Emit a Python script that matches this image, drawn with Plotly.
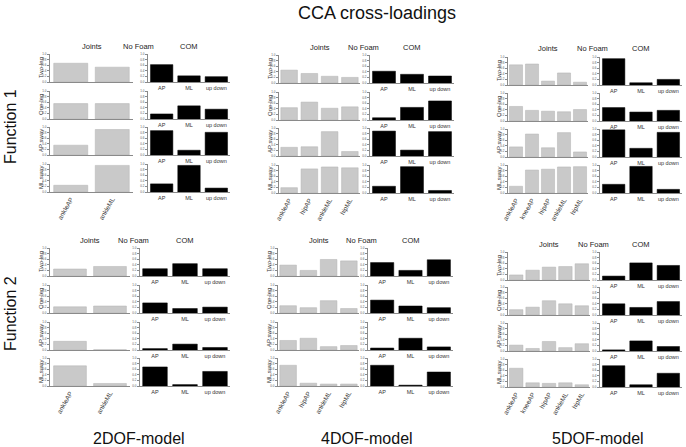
import plotly.graph_objects as go

W, H = 686, 447
FONT = "Arial, Liberation Sans, sans-serif"

conditions = ["Two-leg", "One-leg", "AP sway", "ML sway"]
com_labels = ["AP", "ML", "up down"]
joints_2dof = ["ankleAP", "ankleML"]
joints_4dof = ["ankleAP", "hipAP", "ankleML", "hipML"]
joints_5dof = ["ankleAP", "kneeAP", "hipAP", "ankleML", "hipML"]
model_names = ["2DOF-model", "4DOF-model", "5DOF-model"]
function_names = ["Function 1", "Function 2"]

# Function 1 cross-loadings (rows: Two-leg, One-leg, AP sway, ML sway)
f1_2dof_joints = [[0.67, 0.53], [0.55, 0.55], [0.35, 0.91], [0.24, 0.95]]
f1_2dof_com = [[0.62, 0.22, 0.19], [0.18, 0.47, 0.35], [0.87, 0.17, 0.81], [0.29, 0.95, 0.14]]
f1_4dof_joints = [[0.46, 0.34, 0.24, 0.20], [0.44, 0.64, 0.42, 0.47],
                  [0.31, 0.33, 0.87, 0.16], [0.19, 0.86, 0.93, 0.90]]
f1_4dof_com = [[0.42, 0.31, 0.25], [0.08, 0.45, 0.68], [0.89, 0.21, 0.87], [0.24, 0.94, 0.09]]
f1_5dof_joints = [[0.72, 0.75, 0.14, 0.43, 0.10], [0.52, 0.38, 0.35, 0.33, 0.41],
                  [0.36, 0.82, 0.33, 0.87, 0.18], [0.24, 0.82, 0.85, 0.93, 0.94]]
f1_5dof_com = [[0.94, 0.08, 0.20], [0.48, 0.32, 0.38], [0.97, 0.31, 0.88], [0.31, 0.95, 0.13]]

# Function 2 cross-loadings
f2_2dof_joints = [[0.25, 0.34], [0.22, 0.25], [0.31, 0.01], [0.72, 0.09]]
f2_2dof_com = [[0.26, 0.44, 0.26], [0.36, 0.16, 0.21], [0.05, 0.21, 0.09], [0.68, 0.05, 0.52]]
f2_4dof_joints = [[0.39, 0.20, 0.59, 0.54], [0.26, 0.19, 0.44, 0.16],
                  [0.34, 0.42, 0.12, 0.16], [0.74, 0.10, 0.07, 0.07]]
f2_4dof_com = [[0.48, 0.20, 0.58], [0.46, 0.25, 0.19], [0.07, 0.42, 0.11], [0.74, 0.03, 0.50]]
f2_5dof_joints = [[0.18, 0.35, 0.46, 0.48, 0.58], [0.19, 0.28, 0.51, 0.40, 0.33],
                  [0.21, 0.09, 0.34, 0.12, 0.26], [0.67, 0.15, 0.13, 0.15, 0.08]]
f2_5dof_com = [[0.14, 0.61, 0.52], [0.40, 0.27, 0.48], [0.04, 0.36, 0.16], [0.76, 0.08, 0.49]]

panels = [
    (joints_2dof, f1_2dof_joints, f1_2dof_com, dict(jl=50, jr=133, cl=148, cr=230, tops=[54, 91, 127, 164])),
    (joints_4dof, f1_4dof_joints, f1_4dof_com, dict(jl=279, jr=360, cl=370, cr=454, tops=[55, 92, 128, 165])),
    (joints_5dof, f1_5dof_joints, f1_5dof_com, dict(jl=508, jr=588, cl=600, cr=682, tops=[57, 93, 129, 165])),
    (joints_2dof, f2_2dof_joints, f2_2dof_com, dict(jl=50, jr=130, cl=140, cr=230, tops=[248, 285, 322, 358])),
    (joints_4dof, f2_4dof_joints, f2_4dof_com, dict(jl=278, jr=359, cl=368, cr=453, tops=[248, 285, 322, 358])),
    (joints_5dof, f2_5dof_joints, f2_5dof_com, dict(jl=508, jr=590, cl=600, cr=682, tops=[252, 287, 323, 359])),
]
ROW_H = 28

fig = go.Figure()
layout = {}
annotations = []
n = 0

def px_x(v):
    return v / W

def px_y(v):
    return 1 - v / H

AX_COLOR = "#8a8a8a"

def add_axes(n, xl, xr, top, show_x, x_font, x_angle):
    xa = "xaxis" if n == 1 else f"xaxis{n}"
    ya = "yaxis" if n == 1 else f"yaxis{n}"
    layout[xa] = dict(domain=[px_x(xl), px_x(xr)], anchor=f"y{n if n > 1 else ''}",
                      showline=True, linecolor=AX_COLOR, linewidth=1, ticks="",
                      showgrid=False, zeroline=False, showticklabels=show_x,
                      tickfont=dict(size=x_font, color="#333", family=FONT),
                      tickangle=x_angle, ticklen=0, automargin=False)
    layout[ya] = dict(domain=[px_y(top + ROW_H), px_y(top)], anchor=f"x{n if n > 1 else ''}",
                      range=[0, 1.0], dtick=0.2, tickformat=".1f",
                      showline=True, linecolor=AX_COLOR, linewidth=1, ticks="outside",
                      ticklen=2, tickcolor=AX_COLOR, tickwidth=0.5,
                      showgrid=False, zeroline=False,
                      tickfont=dict(size=3, color="#555", family=FONT), automargin=False)

for (jnames, jvals, cvals, g) in panels:
    for r, cond in enumerate(conditions):
        top = g["tops"][r]
        # joints subplot
        n += 1
        add_axes(n, g["jl"], g["jr"], top, r == 3, 6.5, -60)
        sfx = "" if n == 1 else str(n)
        fig.add_trace(go.Bar(x=jnames, y=jvals[r], xaxis=f"x{sfx}", yaxis=f"y{sfx}",
                             marker=dict(color="#c9c9c9", line=dict(color="#b3b3b3", width=0.5)),
                             showlegend=False, hoverinfo="x+y"))
        # COM subplot
        n += 1
        add_axes(n, g["cl"], g["cr"], top, True, 5.5, 0)
        sfx = str(n)
        fig.add_trace(go.Bar(x=com_labels, y=cvals[r], xaxis=f"x{sfx}", yaxis=f"y{sfx}",
                             marker=dict(color="#000000", line=dict(color="#000000", width=0.5)),
                             showlegend=False, hoverinfo="x+y"))
        # row label
        annotations.append(dict(text=cond, x=px_x(g["jl"] - 9), y=px_y(top + ROW_H / 2),
                                xref="paper", yref="paper", showarrow=False, textangle=-90,
                                font=dict(size=6, color="#333", family=FONT),
                                xanchor="center", yanchor="middle"))
    # headers
    hy = px_y(g["tops"][0] - 8)
    for txt, xc in [("Joints", (g["jl"] + g["jr"]) / 2),
                    ("No Foam", (g["jr"] + g["cl"]) / 2 - 2),
                    ("COM", (g["cl"] + g["cr"]) / 2)]:
        annotations.append(dict(text=txt, x=px_x(xc), y=hy, xref="paper", yref="paper",
                                showarrow=False, xanchor="center", yanchor="middle",
                                font=dict(size=7.5, color="#222", family=FONT)))

# big labels
annotations.append(dict(text="CCA cross-loadings", x=px_x(377), y=px_y(13), xref="paper", yref="paper",
                        showarrow=False, xanchor="center", yanchor="middle",
                        font=dict(size=18, color="#111", family=FONT)))
for name, yc in zip(function_names, [127, 314]):
    annotations.append(dict(text=name, x=px_x(10), y=px_y(yc), xref="paper", yref="paper",
                            showarrow=False, textangle=-90, xanchor="center", yanchor="middle",
                            font=dict(size=16, color="#111", family=FONT)))
for name, xc in zip(model_names, [139, 367, 598]):
    annotations.append(dict(text=name, x=px_x(xc), y=px_y(438), xref="paper", yref="paper",
                            showarrow=False, xanchor="center", yanchor="middle",
                            font=dict(size=16, color="#111", family=FONT)))

fig.update_layout(**layout)
fig.update_layout(width=W, height=H, margin=dict(l=0, r=0, t=0, b=0),
                  paper_bgcolor="white", plot_bgcolor="white", bargap=0.18,
                  annotations=annotations, showlegend=False,
                  font=dict(family=FONT))
fig.write_html("out.html")
